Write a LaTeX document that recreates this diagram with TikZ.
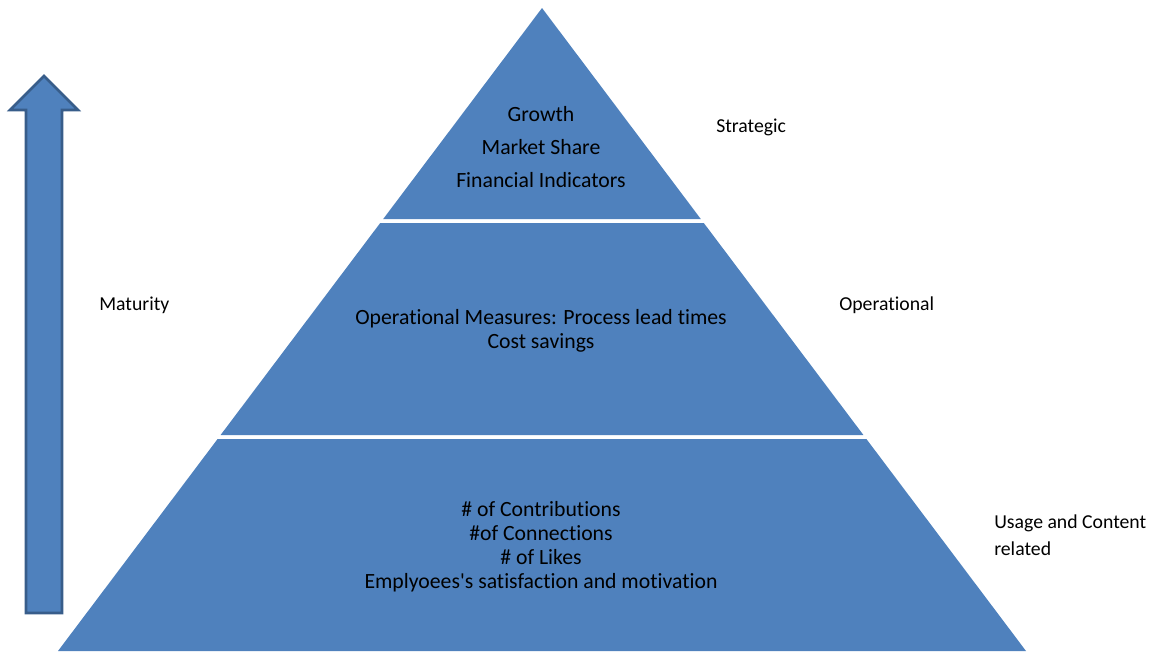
\documentclass[tikz,border=0pt]{standalone}
\usepackage{fontspec}
\setmainfont{Carlito}[Ligatures=NoCommon]
\definecolor{pyrblue}{HTML}{4F81BD}
\definecolor{pyredge}{HTML}{385D8A}
\begin{document}
\begin{tikzpicture}[x=0.75pt,y=-0.75pt,
  band/.style={fill=pyrblue},
  intext/.style={font=\fontsize{16.3}{18}\selectfont, align=center, text=black, inner sep=0pt},
  sidetext/.style={font=\fontsize{14.8}{20}\selectfont, align=left, anchor=west, text=black, inner sep=0pt},
  arrowshape/.style={fill=pyrblue, draw=pyredge, line width=1.9pt, line join=miter}]
\useasboundingbox (0,0) rectangle (1153,651);
% pyramid bands
\fill[band] (542,8) -- (700.8,219) -- (383.2,219) -- cycle;
\fill[band] (380.2,223) -- (703.8,223) -- (863.4,435) -- (220.6,435) -- cycle;
\fill[band] (217.6,439) -- (866.4,439) -- (1026,651) -- (58,651) -- cycle;
% arrow
\draw[arrowshape] (26,613) -- (62,613) -- (62,110) -- (78,110) -- (44,76) -- (10,110) -- (26,110) -- cycle;
% texts in pyramid
\node[intext] (g) at (541,114.5) {Growth};
\node[intext] (ms) at (541,147.5) {Market Share};
\node[intext] (fi) at (541,180.5) {Financial Indicators};
\node[intext] (op) at (541,331) {Operational Measures: Process lead times\\Cost savings};
\node[intext] (us) at (541,546.5) {\# of Contributions\\\#of Connections\\\# of Likes\\Emplyoees\textquotesingle s satisfaction and motivation};
% side labels
\node[sidetext] (st) at (716,127) {Strategic};
\node[sidetext] (ol) at (839,305) {Operational};
\node[sidetext] (ma) at (99,305) {Maturity};
\node[sidetext] (uc) at (994,535.5) {Usage and Content\\related};
\end{tikzpicture}
\end{document}
